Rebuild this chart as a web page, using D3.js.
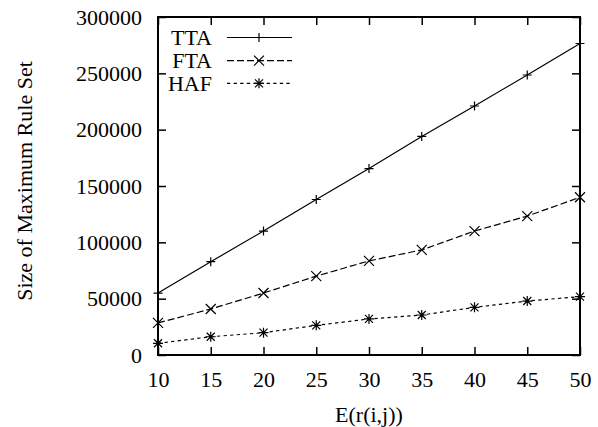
<!DOCTYPE html>
<html>
<head>
<meta charset="utf-8">
<script src="https://cdn.jsdelivr.net/npm/d3@7"></script>
<style>
  body { margin: 0; background: #fff; }
</style>
</head>
<body>
<div id="chart"></div>
<script>
// Chart data
var xValues = [10, 15, 20, 25, 30, 35, 40, 45, 50];
var ttaValues = [55000, 82800, 110000, 138000, 165500, 194000, 221000, 248500, 276500];
var ftaValues = [28500, 40800, 55000, 70000, 83500, 93300, 110000, 123300, 140000];
var hafValues = [10400, 16200, 19800, 26300, 32000, 35500, 42300, 47900, 51800];
var xTicks = [10, 15, 20, 25, 30, 35, 40, 45, 50];
var yTicks = [0, 50000, 100000, 150000, 200000, 250000, 300000];
var seriesNames = ["TTA", "FTA", "HAF"];

var svg_width = 598;
var svg_height = 427;
var margin = {left: 158, right: 18, top: 17, bottom: 72};
var tick_len = 8;
var font = "'Liberation Serif', 'Times New Roman', serif";
var font_size = "22px";

var svg = d3.select("#chart").append("svg")
  .attr("width", svg_width)
  .attr("height", svg_height);

var x = d3.scaleLinear()
  .domain([10, 50])
  .range([margin.left, svg_width - margin.right]);

var y = d3.scaleLinear()
  .domain([0, 300000])
  .range([svg_height - margin.bottom, margin.top]);

var plotW = x.range()[1] - x.range()[0];
var plotH = y.range()[0] - y.range()[1];

// Axes: inward ticks on all four sides
svg.append("g")
  .attr("transform", "translate(0," + y(0) + ")")
  .call(d3.axisBottom(x).tickValues(xTicks).tickSizeInner(-tick_len).tickSizeOuter(0).tickPadding(16));

svg.append("g")
  .attr("transform", "translate(0," + y(300000) + ")")
  .call(d3.axisTop(x).tickValues(xTicks).tickSizeInner(-tick_len).tickSizeOuter(0).tickFormat(""));

svg.append("g")
  .attr("transform", "translate(" + x(10) + ",0)")
  .call(d3.axisLeft(y).tickValues(yTicks).tickSizeInner(-tick_len).tickSizeOuter(0).tickPadding(16).tickFormat(d3.format("d")));

svg.append("g")
  .attr("transform", "translate(" + x(50) + ",0)")
  .call(d3.axisRight(y).tickValues(yTicks).tickSizeInner(-tick_len).tickSizeOuter(0).tickFormat(""));

svg.selectAll(".domain").remove();

svg.selectAll(".tick line")
  .attr("stroke", "#000")
  .attr("stroke-width", 1.5);

svg.selectAll(".tick text")
  .style("font-family", font)
  .style("font-size", font_size)
  .attr("fill", "#000");

// frame
svg.append("rect")
  .attr("x", x(10))
  .attr("y", y(300000))
  .attr("width", plotW)
  .attr("height", plotH)
  .attr("fill", "none")
  .attr("stroke", "#000")
  .attr("stroke-width", 2);

// Axis titles
svg.append("text")
  .text("E(r(i,j))")
  .attr("x", (x(10) + x(50)) / 2)
  .attr("y", 422)
  .attr("text-anchor", "middle")
  .style("font-family", font)
  .style("font-size", font_size);

svg.append("text")
  .text("Size of Maximum Rule Set")
  .attr("transform", "translate(32,181) rotate(-90)")
  .attr("text-anchor", "middle")
  .style("font-family", font)
  .style("font-size", font_size);

// Markers
function drawMarker(g, kind, cx, cy) {
  var p = d3.path();
  if (kind === "plus" || kind === "star") {
    var s = kind === "plus" ? 4.5 : 5;
    p.moveTo(cx - s, cy); p.lineTo(cx + s, cy);
    p.moveTo(cx, cy - s); p.lineTo(cx, cy + s);
  }
  if (kind === "cross" || kind === "star") {
    var c = kind === "cross" ? 5 : 4;
    p.moveTo(cx - c, cy - c); p.lineTo(cx + c, cy + c);
    p.moveTo(cx - c, cy + c); p.lineTo(cx + c, cy - c);
  }
  g.append("path")
    .attr("d", p.toString())
    .attr("stroke", "#000")
    .attr("stroke-width", 1.2)
    .attr("fill", "none");
}

var series = [
  {name: seriesNames[0], values: ttaValues, dash: null, marker: "plus"},
  {name: seriesNames[1], values: ftaValues, dash: "7,3", marker: "cross"},
  {name: seriesNames[2], values: hafValues, dash: "3.3,3.3", marker: "star"}
];

var line = d3.line()
  .x(function(d, i) { return x(xValues[i]); })
  .y(function(d) { return y(d); });

series.forEach(function(s) {
  var g = svg.append("g");
  g.append("path")
    .datum(s.values)
    .attr("d", line)
    .attr("fill", "none")
    .attr("stroke", "#000")
    .attr("stroke-width", 1.2)
    .attr("stroke-dasharray", s.dash);
  s.values.forEach(function(d, i) {
    drawMarker(g, s.marker, x(xValues[i]), y(d));
  });
});

// Legend
var legendY = [37.5, 60.7, 83.3];
series.forEach(function(s, i) {
  var g = svg.append("g");
  g.append("text")
    .text(s.name)
    .attr("x", 212)
    .attr("y", legendY[i] + 7.5)
    .attr("text-anchor", "end")
    .style("font-family", font)
    .style("font-size", font_size);
  g.append("line")
    .attr("x1", 227)
    .attr("x2", 292)
    .attr("y1", legendY[i])
    .attr("y2", legendY[i])
    .attr("stroke", "#000")
    .attr("stroke-width", 1.2)
    .attr("stroke-dasharray", s.dash);
  drawMarker(g, s.marker, 259, legendY[i]);
});
</script>
</body>
</html>
